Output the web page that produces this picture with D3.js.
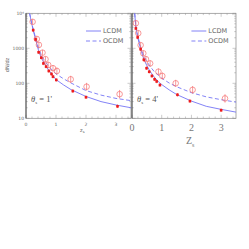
<!DOCTYPE html>
<html>
<head>
<meta charset="utf-8">
<script src="https://cdn.jsdelivr.net/npm/d3@7"></script>
<style>
  body { margin: 0; background: #fff; }
  text { font-family: "DejaVu Sans", sans-serif; }
</style>
</head>
<body>
<div class="canvas"></div>
<script>
// left panel (theta = 1')
const zFill1 = [0.24, 0.32, 0.42, 0.51, 0.58, 0.67, 0.76, 0.85, 0.90, 1.01, 1.56, 2.0, 3.05];
const nFill1 = [3300, 1800, 770, 540, 370, 300, 225, 185, 155, 125, 60, 40, 22];
const zOpen1 = [0.22, 0.36, 0.43, 0.55, 0.65, 0.74, 0.90, 1.03, 1.49, 2.02, 3.12];
const nOpen1 = [5700, 1850, 1250, 750, 490, 335, 270, 225, 130, 80, 49];
const zLcdm1 = [0.12, 0.18, 0.24, 0.32, 0.42, 0.5, 0.6, 0.75, 0.9, 1.0, 1.25, 1.5, 2.0, 2.5, 3.0, 3.5];
const nLcdm1 = [10000, 5500, 3300, 1800, 850, 560, 380, 240, 165, 128, 90, 66, 42, 30, 24, 20];
const zOcdm1 = [0.12, 0.18, 0.24, 0.32, 0.42, 0.5, 0.6, 0.75, 0.9, 1.0, 1.25, 1.5, 2.0, 2.5, 3.0, 3.5];
const nOcdm1 = [10000, 5700, 3500, 2000, 1000, 680, 470, 310, 225, 185, 135, 102, 62, 46, 37, 32];

// right panel (theta = 4')
const zFill2 = [0.13, 0.19, 0.29, 0.40, 0.49, 0.58, 0.67, 0.76, 0.83, 0.94, 1.53, 1.95, 3.0];
const nFill2 = [3700, 2050, 940, 470, 270, 214, 162, 130, 113, 89, 47, 31, 17];
const zOpen2 = [0.13, 0.21, 0.29, 0.38, 0.47, 0.61, 0.89, 1.02, 1.47, 2.04, 3.13];
const nOpen2 = [5200, 2700, 1230, 720, 490, 370, 215, 162, 100, 65, 37];
const zLcdm2 = [0.09, 0.13, 0.19, 0.29, 0.4, 0.5, 0.6, 0.75, 0.9, 1.0, 1.25, 1.5, 2.0, 2.5, 3.0, 3.5];
const nLcdm2 = [10000, 4000, 2100, 950, 480, 320, 225, 150, 108, 92, 65, 48, 31, 22, 18, 15];
const zOcdm2 = [0.09, 0.13, 0.19, 0.29, 0.4, 0.5, 0.6, 0.75, 0.9, 1.0, 1.25, 1.5, 2.0, 2.5, 3.0, 3.5];
const nOcdm2 = [10000, 4200, 2300, 1100, 600, 420, 310, 215, 165, 140, 102, 80, 54, 41, 34, 29];

const errOpen = [0.08, 0.08, 0.08, 0.08, 0.08, 0.09, 0.09, 0.1, 0.1, 0.11, 0.12]; // dex
const errFill = 0.05;

const xTicks = [0, 1, 2, 3];
const yTicks = [10, 100, 1000, 10000];
const yTickLabels = ["10", "100", "1000", "10⁴"];

const blue = "#7575f5";
const red = "#ee1c1c";
const pink = "#f56f6f";

const svg = d3.select('.canvas')
  .append('svg')
  .attr('width', 249)
  .attr('height', 249);

const y = d3.scaleLog().domain([10, 10000]).range([118.3, 13.3]);

function panel(x0, x1, d) {
  const x = d3.scaleLinear().domain([0, 3.5]).range([x0, x1]);
  const g = svg.append('g');

  // minor / major ticks
  const minorX = d3.range(0, 3.5, 0.2);
  const minorY = [];
  [10, 100, 1000].forEach(dec => { for (let k = 2; k <= 9; k++) minorY.push(dec * k); });

  minorX.forEach(v => {
    const len = Math.abs(v - Math.round(v)) < 1e-6 ? 3.5 : 1.8;
    g.append('line').attr('x1', x(v)).attr('x2', x(v)).attr('y1', y(10)).attr('y2', y(10) - len)
      .attr('stroke', '#aaa').attr('stroke-width', 0.6);
    g.append('line').attr('x1', x(v)).attr('x2', x(v)).attr('y1', y(10000)).attr('y2', y(10000) + len)
      .attr('stroke', '#aaa').attr('stroke-width', 0.6);
  });
  yTicks.concat(minorY).forEach(v => {
    const len = yTicks.includes(v) ? 3.5 : 1.8;
    g.append('line').attr('x1', x0).attr('x2', x0 + len).attr('y1', y(v)).attr('y2', y(v))
      .attr('stroke', '#aaa').attr('stroke-width', 0.6);
    g.append('line').attr('x1', x1).attr('x2', x1 - len).attr('y1', y(v)).attr('y2', y(v))
      .attr('stroke', '#aaa').attr('stroke-width', 0.6);
  });

  // frame
  g.append('rect')
    .attr('x', x0).attr('y', y(10000))
    .attr('width', x1 - x0).attr('height', y(10) - y(10000))
    .attr('fill', 'none').attr('stroke', '#888').attr('stroke-width', 0.7);
  g.append('line').attr('x1', x0).attr('x2', x0).attr('y1', y(10000)).attr('y2', y(10))
    .attr('stroke', '#333').attr('stroke-width', 0.8);

  const clip = 'clip' + x0;
  svg.append('clipPath').attr('id', clip).append('rect')
    .attr('x', x0).attr('y', y(10000)).attr('width', x1 - x0).attr('height', y(10) - y(10000));
  const plot = g.append('g').attr('clip-path', `url(#${clip})`);

  const line = d3.line().x(p => x(p[0])).y(p => y(p[1]));
  plot.append('path').datum(d.zL.map((z, i) => [z, d.nL[i]]))
    .attr('d', line).attr('fill', 'none').attr('stroke', blue).attr('stroke-width', 0.9);
  plot.append('path').datum(d.zO.map((z, i) => [z, d.nO[i]]))
    .attr('d', line).attr('fill', 'none').attr('stroke', blue).attr('stroke-width', 0.9)
    .attr('stroke-dasharray', '4,2.5');

  // open circles with error bars
  d.zOpen.forEach((z, i) => {
    const n = d.nOpen[i], e = errOpen[i];
    plot.append('line').attr('x1', x(z)).attr('x2', x(z))
      .attr('y1', y(n * Math.pow(10, e))).attr('y2', y(n / Math.pow(10, e)))
      .attr('stroke', pink).attr('stroke-width', 0.7);
    plot.append('circle').attr('cx', x(z)).attr('cy', y(n)).attr('r', 2.8)
      .attr('fill', 'none').attr('stroke', pink).attr('stroke-width', 0.7);
  });
  // filled squares
  d.zFill.forEach((z, i) => {
    const n = d.nFill[i];
    plot.append('line').attr('x1', x(z)).attr('x2', x(z))
      .attr('y1', y(n * Math.pow(10, errFill))).attr('y2', y(n / Math.pow(10, errFill)))
      .attr('stroke', red).attr('stroke-width', 0.6);
    plot.append('rect').attr('x', x(z) - 1.3).attr('y', y(n) - 1.3)
      .attr('width', 2.6).attr('height', 2.6).attr('fill', red);
  });

  // legend
  const lx = x(2.0), lw = x(2.5) - x(2.0);
  g.append('line').attr('x1', lx).attr('x2', lx + lw).attr('y1', 31).attr('y2', 31)
    .attr('stroke', blue).attr('stroke-width', 0.9);
  g.append('line').attr('x1', lx).attr('x2', lx + lw).attr('y1', 41).attr('y2', 41)
    .attr('stroke', blue).attr('stroke-width', 0.9).attr('stroke-dasharray', '4,2.5');
  g.append('text').attr('x', lx + lw + 2).attr('y', 33).attr('font-size', 6.5).attr('fill', '#666').text('LCDM');
  g.append('text').attr('x', lx + lw + 2).attr('y', 43).attr('font-size', 6.5).attr('fill', '#666').text('OCDM');

  // theta label
  const t = g.append('text').attr('x', x0 + 5).attr('y', 102).attr('font-size', 8.5)
    .attr('fill', '#555').style('font-family', '"Liberation Serif", serif');
  t.append('tspan').attr('font-style', 'italic').text('θ');
  t.append('tspan').attr('font-size', 5).attr('dy', 1.5).text('s');
  t.append('tspan').attr('dy', -1.5).text(' =  ' + d.theta);

  return x;
}

const xL = panel(26, 131, {
  zL: zLcdm1, nL: nLcdm1, zO: zOcdm1, nO: nOcdm1,
  zOpen: zOpen1, nOpen: nOpen1, zFill: zFill1, nFill: nFill1, theta: "1'"
});
const xR = panel(132, 236, {
  zL: zLcdm2, nL: nLcdm2, zO: zOcdm2, nO: nOcdm2,
  zOpen: zOpen2, nOpen: nOpen2, zFill: zFill2, nFill: nFill2, theta: "4'"
});

// left panel axis labels (small)
xTicks.forEach(v => {
  svg.append('text').attr('x', xL(v)).attr('y', 126).attr('text-anchor', 'middle')
    .attr('font-size', 4.5).attr('fill', '#666').text(v);
});
yTicks.forEach((v, i) => {
  svg.append('text').attr('x', 24).attr('y', y(v) + 1.5).attr('text-anchor', 'end')
    .attr('font-size', 4.5).attr('fill', '#666').text(yTickLabels[i]);
});
const zl = svg.append('text').attr('x', 80).attr('y', 132).attr('font-size', 5).attr('fill', '#666');
zl.append('tspan').text('z');
zl.append('tspan').attr('font-size', 3.5).attr('dy', 1).text('s');

svg.append('text').attr('transform', 'translate(9,65) rotate(-90)')
  .attr('text-anchor', 'middle').attr('font-size', 5).attr('fill', '#666').text('dN/dz');

// right panel axis labels (large)
xTicks.forEach(v => {
  svg.append('text').attr('x', xR(v)).attr('y', 131).attr('text-anchor', 'middle')
    .attr('font-size', 10).attr('fill', '#777')
    .style('font-family', '"Liberation Serif", serif').text(v);
});
const zr = svg.append('text').attr('x', 186).attr('y', 144).attr('font-size', 10).attr('fill', '#777')
  .style('font-family', '"Liberation Serif", serif');
zr.append('tspan').text('Z');
zr.append('tspan').attr('font-size', 6).attr('dy', 2.5).text('s');
</script>
</body>
</html>
